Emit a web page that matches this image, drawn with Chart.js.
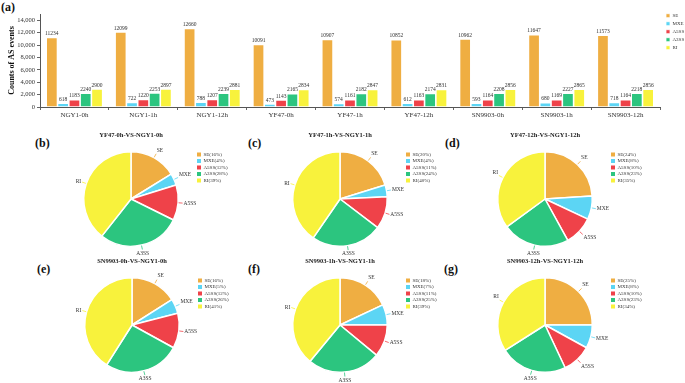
<!DOCTYPE html>
<html>
<head>
<meta charset="utf-8">
<script src="https://cdn.jsdelivr.net/npm/chart.js@4.4.1/dist/chart.umd.min.js"></script>
<style>
body { margin: 0; background: #fff; width: 685px; height: 383px; overflow: hidden; position: relative; font-family: "Liberation Serif", serif; }
canvas { position: absolute; }
.tag { position: absolute; font-weight: bold; font-size: 12px; line-height: 1; color: #111; }
</style>
</head>
<body>
<div class="tag" style="left:1px;top:1px">(a)</div>
<div class="tag" style="left:35px;top:137px">(b)</div>
<div class="tag" style="left:248px;top:137px">(c)</div>
<div class="tag" style="left:445px;top:137px">(d)</div>
<div class="tag" style="left:37px;top:263px">(e)</div>
<div class="tag" style="left:248px;top:263px">(f)</div>
<div class="tag" style="left:444px;top:263px">(g)</div>
<canvas id="bars" width="685" height="122" style="left:0;top:0"></canvas>

<script>
// samples and AS event types
var groups = ['NGY1-0h', 'NGY1-1h', 'NGY1-12h', 'YF47-0h', 'YF47-1h', 'YF47-12h', 'SN9903-0h', 'SN9903-1h', 'SN9903-12h'];
var types = ['SE', 'MXE', 'A5SS', 'A3SS', 'RI'];

// counts of AS events (panel a)
var SE   = [11234, 12099, 12660, 10091, 10907, 10852, 10962, 11647, 11573];
var MXE  = [618, 722, 788, 473, 574, 612, 593, 680, 718];
var A5SS = [1183, 1220, 1207, 1143, 1161, 1163, 1164, 1169, 1164];
var A3SS = [2240, 2253, 2239, 2165, 2182, 2174, 2208, 2227, 2218];
var RI   = [2900, 2897, 2881, 2834, 2847, 2831, 2856, 2865, 2856];
var yTicks = [0, 2000, 4000, 6000, 8000, 10000, 12000, 14000];
var yMax = 15000;

// percentages of differential AS events (panels b-g)
var pieTitles = ['YF47-0h-VS-NGY1-0h', 'YF47-1h-VS-NGY1-1h', 'YF47-12h-VS-NGY1-12h',
                 'SN9903-0h-VS-NGY1-0h', 'SN9903-1h-VS-NGY1-1h', 'SN9903-12h-VS-NGY1-12h'];
var pie_b = [16, 4, 12, 28, 39];
var pie_c = [20, 4, 11, 24, 40];
var pie_d = [24, 8, 10, 23, 35];
var pie_e = [16, 5, 12, 26, 41];
var pie_f = [18, 7, 11, 25, 39];
var pie_g = [25, 8, 10, 23, 34];

var colors = ['#EFAE42', '#5CD5F4', '#EF4249', '#2CC57F', '#F8F23C'];
var serif = "'Liberation Serif', 'Times New Roman', serif";

// move the legend next to the chart area
var legendShift = {
  id: 'legendShift',
  afterLayout: function (chart, args, opts) {
    var lg = chart.legend, ca = chart.chartArea;
    if (!lg) return;
    lg.left = ca.right + (opts.dx || 0);
    lg.right = lg.left + lg.width;
    lg.top = ca.top + (opts.dy || 0);
    lg.bottom = lg.top + lg.height;
  }
};

// numbers above bars
var valueTags = {
  id: 'valueTags',
  afterDatasetsDraw: function (chart) {
    var ctx = chart.ctx;
    ctx.save();
    ctx.font = '5.5px ' + serif;
    ctx.fillStyle = '#333';
    ctx.textAlign = 'center';
    ctx.textBaseline = 'bottom';
    chart.data.datasets.forEach(function (ds, i) {
      chart.getDatasetMeta(i).data.forEach(function (bar, j) {
        ctx.fillText(ds.data[j], bar.x, bar.y - 1);
      });
    });
    ctx.restore();
  }
};

// names outside the slices, with a short line
var sliceTags = {
  id: 'sliceTags',
  afterDatasetsDraw: function (chart) {
    var ctx = chart.ctx;
    ctx.save();
    ctx.font = '5.5px ' + serif;
    chart.getDatasetMeta(0).data.forEach(function (arc, i) {
      var p = arc.getProps(['x', 'y', 'startAngle', 'endAngle', 'outerRadius'], true);
      var a = (p.startAngle + p.endAngle) / 2, c = Math.cos(a), s = Math.sin(a), r = p.outerRadius;
      ctx.strokeStyle = colors[i];
      ctx.lineWidth = 0.8;
      ctx.beginPath();
      ctx.moveTo(p.x + c * (r + 0.5), p.y + s * (r + 0.5));
      ctx.lineTo(p.x + c * (r + 4.5), p.y + s * (r + 4.5));
      ctx.stroke();
      ctx.fillStyle = '#333';
      ctx.textAlign = c > 0.35 ? 'left' : (c < -0.35 ? 'right' : 'center');
      ctx.textBaseline = s > 0.35 ? 'top' : (s < -0.35 ? 'bottom' : 'middle');
      ctx.fillText(chart.data.labels[i], p.x + c * (r + 5.5), p.y + s * (r + 5.5));
    });
    ctx.restore();
  }
};

function bars() {
  var series = [SE, MXE, A5SS, A3SS, RI];
  new Chart(document.getElementById('bars'), {
    type: 'bar',
    data: {
      labels: groups,
      datasets: types.map(function (t, i) {
        return { label: t, data: series[i], backgroundColor: colors[i], borderColor: '#fff', borderWidth: 0.8,
                 categoryPercentage: 0.82, barPercentage: 1 };
      })
    },
    options: {
      responsive: false,
      animation: false,
      layout: { padding: { left: 0, top: 14, right: 25, bottom: 0 } },
      plugins: {
        legend: { position: 'chartArea', align: 'start',
                  labels: { boxWidth: 4, boxHeight: 4, padding: 3, color: '#333', font: { family: serif, size: 5, lineHeight: 1 } } },
        legendShift: { dx: 3, dy: -3.8 },
        tooltip: { enabled: false }
      },
      scales: {
        x: {
          grid: { drawOnChartArea: false, tickLength: 3, color: '#666' },
          border: { color: '#555' },
          ticks: { color: '#333', padding: 1, maxRotation: 0, font: { family: serif, size: 7 } },
          afterFit: function (s) { s.height = 15; }
        },
        y: {
          min: 0, max: yMax,
          grid: { drawOnChartArea: false, tickLength: 3, color: '#666' },
          border: { color: '#555' },
          ticks: { color: '#333', padding: 2, font: { family: serif, size: 6.5 },
                   callback: function (v) { return v.toLocaleString('en-US'); } },
          afterBuildTicks: function (s) { s.ticks = yTicks.map(function (v) { return { value: v }; }); },
          title: { display: true, text: 'Counts of AS events', color: '#111', padding: { top: 7, bottom: 0 },
                   font: { family: serif, size: 8, weight: 'bold' } },
          afterFit: function (s) { s.width = 40; }
        }
      }
    },
    plugins: [legendShift, valueTags]
  });
}

function pie(idx, vals, cx, cy) {
  var cv = document.createElement('canvas');
  cv.width = 178; cv.height = 131;
  cv.style.left = (cx - 64) + 'px';
  cv.style.top = (cy - 71) + 'px';
  document.body.appendChild(cv);
  new Chart(cv, {
    type: 'pie',
    data: { labels: types, datasets: [{ data: vals, backgroundColor: colors, borderColor: '#fff', borderWidth: 1.5 }] },
    options: {
      responsive: false,
      animation: false,
      layout: { padding: { left: 0, right: 50, top: 0, bottom: 12 } },
      plugins: {
        title: { display: true, text: pieTitles[idx], color: '#222', fullSize: false, padding: { top: 3.2, bottom: 12 },
                 font: { family: serif, size: 6.5, weight: 'bold' } },
        legend: { position: 'chartArea', align: 'start',
                  labels: { boxWidth: 4, boxHeight: 4, padding: 1.5, color: '#333', font: { family: serif, size: 5, lineHeight: 1 },
                            generateLabels: function (chart) {
                              return types.map(function (t, i) {
                                return { text: t + '(' + vals[i] + '%)', fillStyle: colors[i], strokeStyle: colors[i],
                                         lineWidth: 0, hidden: false, index: i, fontColor: '#333' };
                              });
                            } } },
        legendShift: { dx: 0.5, dy: -0.5 },
        tooltip: { enabled: false }
      }
    },
    plugins: [legendShift, sliceTags]
  });
}

bars();
pie(0, pie_b, 131, 199);
pie(1, pie_c, 340, 199);
pie(2, pie_d, 545, 199);
pie(3, pie_e, 132, 325);
pie(4, pie_f, 340, 325);
pie(5, pie_g, 545, 325);
</script>
</body>
</html>
